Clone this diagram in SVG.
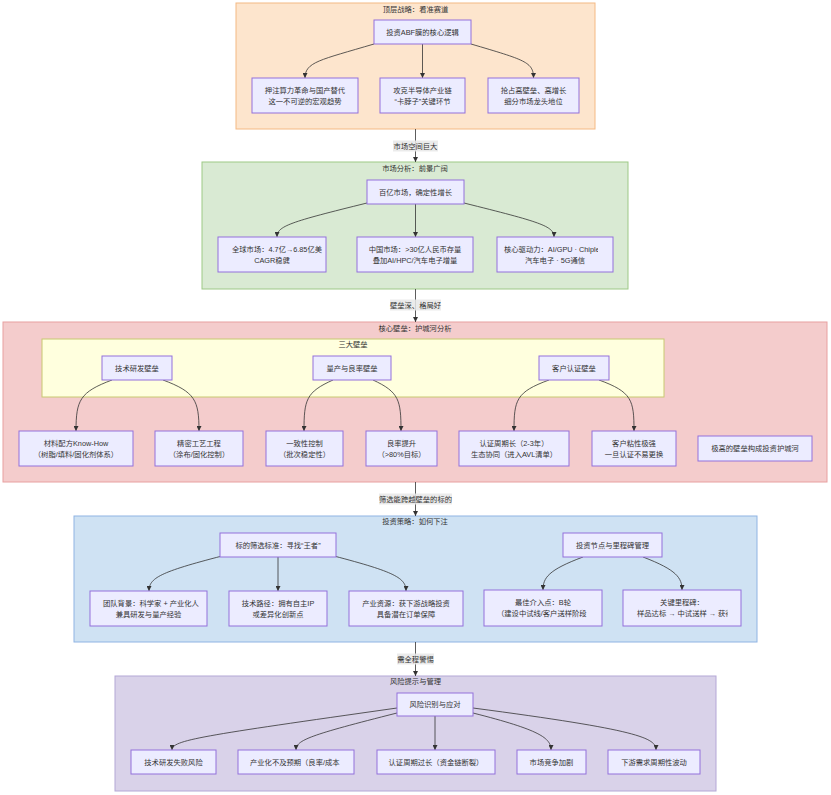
<svg xmlns="http://www.w3.org/2000/svg" width="831" height="795" viewBox="0 0 831 795">
<defs>
<style>
text{font-family:"Liberation Sans","Noto Sans CJK SC",sans-serif;font-size:7.3px;fill:#333;dominant-baseline:central}
.c{text-anchor:middle}
.s{text-anchor:start}
.n rect{fill:#ececff;stroke:#9370db;stroke-width:1}
.e{fill:none;stroke:#333;stroke-width:0.8}
.lb{fill:#e8e8e8;opacity:0.85}
</style>
<marker id="ah" viewBox="0 0 10 10" refX="10" refY="5" markerWidth="5" markerHeight="5" markerUnits="userSpaceOnUse" orient="auto"><path d="M0,0 L10,5 L0,10 z" fill="#333"/></marker>
<clipPath id="cpI1"><rect x="90" y="591" width="109" height="35"/></clipPath>
<clipPath id="cpD2"><rect x="623" y="590" width="105" height="36"/></clipPath>
<clipPath id="cpM3"><rect x="497" y="237" width="101" height="35"/></clipPath>
</defs>

<g id="clusters">
<g id="cl-top"><rect x="236" y="3" width="359" height="126" fill="#fde5cd" stroke="#f4b983" stroke-width="1"/><text class="c" x="415.5" y="9">顶层战略：看准赛道</text></g>
<g id="cl-market"><rect x="202" y="162" width="426" height="127" fill="#d9ead3" stroke="#9dc986" stroke-width="1"/><text class="c" x="415" y="168">市场分析：前景广阔</text></g>
<g id="cl-core"><rect x="3" y="322" width="824" height="160" fill="#f4cccc" stroke="#e8a0a0" stroke-width="1"/><text class="c" x="415" y="328">核心壁垒：护城河分析</text></g>
<g id="cl-three"><rect x="42" y="339" width="622" height="58" fill="#ffffde" stroke="#c8c870" stroke-width="1"/><text class="c" x="353" y="344.5">三大壁垒</text></g>
<g id="cl-invest"><rect x="74" y="516" width="683" height="126" fill="#cfe2f3" stroke="#8fb4e3" stroke-width="1"/><text class="c" x="415" y="521.5">投资策略：如何下注</text></g>
<g id="cl-risk"><rect x="115" y="676" width="601" height="115" fill="#d9d2e9" stroke="#b4a7d6" stroke-width="1"/><text class="c" x="415.5" y="681.5">风险提示与管理</text></g>
</g>

<g id="connectors">
<path class="e" d="M415.5,129 L415.5,162" marker-end="url(#ah)"/>
<path class="e" d="M415.5,289 L415.5,322" marker-end="url(#ah)"/>
<path class="e" d="M415.5,482 L415.5,516" marker-end="url(#ah)"/>
<path class="e" d="M415.5,642 L415.5,676" marker-end="url(#ah)"/>

<path class="e" d="M374,44 C320,60 305,62 305,78" marker-end="url(#ah)"/>
<path class="e" d="M422.5,44 L422.5,78" marker-end="url(#ah)"/>
<path class="e" d="M471,44 C525,60 533.5,62 533.5,78" marker-end="url(#ah)"/>

<path class="e" d="M367,203 C290,222 277,226 277,237" marker-end="url(#ah)"/>
<path class="e" d="M415.5,204 L415.5,237" marker-end="url(#ah)"/>
<path class="e" d="M464,203 C540,222 554,226 554,237" marker-end="url(#ah)"/>

<path class="e" d="M112,380 C80,392 76,400 76,431" marker-end="url(#ah)"/>
<path class="e" d="M163,380 C195,392 199,400 199,431" marker-end="url(#ah)"/>
<path class="e" d="M333,380 C306,392 304,400 304,431" marker-end="url(#ah)"/>
<path class="e" d="M373,380 C399,392 401,400 401,431" marker-end="url(#ah)"/>
<path class="e" d="M549,380 C516,392 514,400 514,431" marker-end="url(#ah)"/>
<path class="e" d="M599,380 C632,392 634,400 634,431" marker-end="url(#ah)"/>

<path class="e" d="M222,556 C160,572 149,578 149,591" marker-end="url(#ah)"/>
<path class="e" d="M278,557 L278,591" marker-end="url(#ah)"/>
<path class="e" d="M334,556 C395,572 406,578 406,591" marker-end="url(#ah)"/>
<path class="e" d="M583,557 C548,570 543,578 543,590" marker-end="url(#ah)"/>
<path class="e" d="M643,557 C677,570 682,578 682,590" marker-end="url(#ah)"/>

<path class="e" d="M397,708 C200,736 172,740 172,750" marker-end="url(#ah)"/>
<path class="e" d="M397,713 C310,735 296,740 296,750" marker-end="url(#ah)"/>
<path class="e" d="M435,716 L435,750" marker-end="url(#ah)"/>
<path class="e" d="M473,713 C540,730 551,738 551,750" marker-end="url(#ah)"/>
<path class="e" d="M473,708 C640,730 656,738 656,750" marker-end="url(#ah)"/>
</g>

<g id="edge-labels">
<g id="el1"><rect class="lb" x="393" y="140.5" width="45" height="11"/><text class="c" x="415.5" y="146">市场空间巨大</text></g>
<g id="el2"><rect class="lb" x="390" y="299.5" width="51" height="11"/><text class="c" x="415.5" y="305">壁垒深、格局好</text></g>
<g id="el3"><rect class="lb" x="379" y="493.5" width="73" height="11"/><text class="c" x="415.5" y="499">筛选能跨越壁垒的标的</text></g>
<g id="el4"><rect class="lb" x="397" y="653.5" width="37" height="11"/><text class="c" x="415.5" y="659">需全程警惕</text></g>
</g>

<g id="n-logic" class="n"><rect x="374" y="20" width="97" height="24"/><text class="c" x="422.5" y="32">投资ABF膜的核心逻辑</text></g>
<g id="n-trend" class="n"><rect x="252" y="78" width="106" height="35"/><text class="c" x="305" y="90.5">押注算力革命与国产替代</text><text class="c" x="305" y="101">这一不可逆的宏观趋势</text></g>
<g id="n-chokepoint" class="n"><rect x="380" y="78" width="85" height="35"/><text class="c" x="422.5" y="90.5">攻克半导体产业链</text><text class="c" x="422.5" y="101">“卡脖子”关键环节</text></g>
<g id="n-leader" class="n"><rect x="488" y="78" width="91" height="35"/><text class="c" x="533.5" y="90.5">抢占高壁垒、高增长</text><text class="c" x="533.5" y="101">细分市场龙头地位</text></g>

<g id="n-market" class="n"><rect x="367" y="180" width="97" height="24"/><text class="c" x="415.5" y="192">百亿市场，确定性增长</text></g>
<g id="n-global" class="n"><rect x="218" y="237" width="108" height="35"/><text class="s" x="232" y="249.5">全球市场：4.7亿→6.85亿美</text><text class="c" x="272" y="260">CAGR稳健</text></g>
<g id="n-china" class="n"><rect x="357" y="237" width="116" height="35"/><text class="c" x="415" y="249.5">中国市场：&gt;30亿人民币存量</text><text class="c" x="415" y="260">叠加AI/HPC/汽车电子增量</text></g>
<g id="n-driver" class="n"><rect x="497" y="237" width="116" height="35"/><text class="s" x="504" y="249.5" clip-path="url(#cpM3)">核心驱动力：AI/GPU · Chiplet</text><text class="c" x="555" y="260">汽车电子 · 5G通信</text></g>

<g id="n-tech" class="n"><rect x="102" y="356" width="70" height="24"/><text class="c" x="137" y="368">技术研发壁垒</text></g>
<g id="n-yield" class="n"><rect x="313" y="356" width="78" height="24"/><text class="c" x="352" y="368">量产与良率壁垒</text></g>
<g id="n-cert" class="n"><rect x="539" y="356" width="70" height="24"/><text class="c" x="574" y="368">客户认证壁垒</text></g>
<g id="n-recipe" class="n"><rect x="19" y="431" width="114" height="35"/><text class="c" x="76" y="443.5">材料配方Know-How</text><text class="c" x="76" y="454">（树脂/填料/固化剂体系）</text></g>
<g id="n-process" class="n"><rect x="155" y="431" width="88" height="35"/><text class="c" x="199" y="443.5">精密工艺工程</text><text class="c" x="199" y="454">（涂布/固化控制）</text></g>
<g id="n-consist" class="n"><rect x="266" y="431" width="77" height="35"/><text class="c" x="304.5" y="443.5">一致性控制</text><text class="c" x="304.5" y="454">（批次稳定性）</text></g>
<g id="n-yieldup" class="n"><rect x="366" y="431" width="71" height="35"/><text class="c" x="401.5" y="443.5">良率提升</text><text class="c" x="401.5" y="454">（&gt;80%目标）</text></g>
<g id="n-cycle" class="n"><rect x="459" y="431" width="110" height="35"/><text class="c" x="514" y="443.5">认证周期长（2-3年）</text><text class="c" x="514" y="454">生态协同（进入AVL清单）</text></g>
<g id="n-sticky" class="n"><rect x="592" y="431" width="84" height="35"/><text class="c" x="634" y="443.5">客户粘性极强</text><text class="c" x="634" y="454">一旦认证不易更换</text></g>
<g id="n-moat" class="n"><rect x="698" y="436" width="114" height="25"/><text class="c" x="755" y="448.5">极高的壁垒构成投资护城河</text></g>

<g id="n-select" class="n"><rect x="220" y="533" width="116" height="24"/><text class="c" x="278" y="545">标的筛选标准：寻找“王者”</text></g>
<g id="n-team" class="n"><rect x="90" y="591" width="117" height="35"/><text class="s" x="103" y="603.5" clip-path="url(#cpI1)">团队背景：科学家 + 产业化人才</text><text class="c" x="148.5" y="614">兼具研发与量产经验</text></g>
<g id="n-path" class="n"><rect x="229" y="591" width="98" height="35"/><text class="c" x="278" y="603.5">技术路径：拥有自主IP</text><text class="c" x="278" y="614">或差异化创新点</text></g>
<g id="n-resource" class="n"><rect x="349" y="591" width="114" height="35"/><text class="c" x="406" y="603.5">产业资源：获下游战略投资</text><text class="c" x="406" y="614">具备潜在订单保障</text></g>
<g id="n-node" class="n"><rect x="563" y="533" width="99" height="24"/><text class="c" x="612.5" y="545">投资节点与里程碑管理</text></g>
<g id="n-entry" class="n"><rect x="484" y="590" width="118" height="36"/><text class="c" x="543" y="602.5">最佳介入点：B轮</text><text class="s" x="497" y="613">（建设中试线/客户送样阶段</text></g>
<g id="n-milestone" class="n"><rect x="623" y="590" width="118" height="36"/><text class="c" x="682" y="602.5">关键里程碑：</text><text class="s" x="637" y="613" clip-path="url(#cpD2)">样品达标 → 中试送样 → 获得订单</text></g>

<g id="n-riskid" class="n"><rect x="397" y="693" width="76" height="23"/><text class="c" x="435" y="704.5">风险识别与应对</text></g>
<g id="n-r1" class="n"><rect x="131" y="750" width="85" height="24"/><text class="c" x="173.5" y="762">技术研发失败风险</text></g>
<g id="n-r2" class="n"><rect x="238" y="750" width="116" height="24"/><text class="s" x="250" y="762">产业化不及预期（良率/成本</text></g>
<g id="n-r3" class="n"><rect x="377" y="750" width="118" height="24"/><text class="c" x="436" y="762">认证周期过长（资金链断裂）</text></g>
<g id="n-r4" class="n"><rect x="517" y="750" width="69" height="24"/><text class="c" x="551.5" y="762">市场竞争加剧</text></g>
<g id="n-r5" class="n"><rect x="608" y="750" width="92" height="24"/><text class="c" x="654" y="762">下游需求周期性波动</text></g>
</svg>
